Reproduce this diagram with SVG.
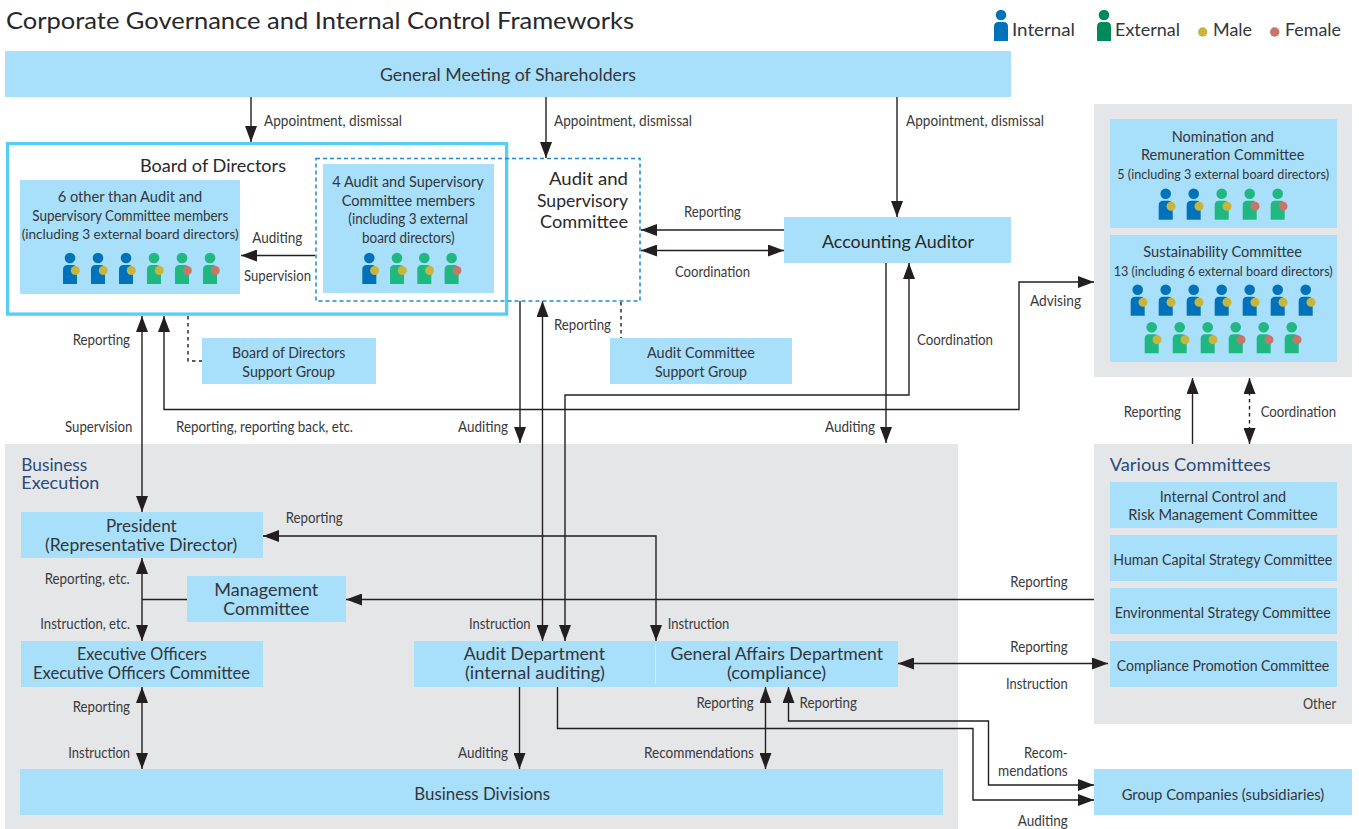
<svg xmlns="http://www.w3.org/2000/svg" xmlns:xlink="http://www.w3.org/1999/xlink" width="1359" height="829" viewBox="0 0 1359 829">
<style>
text{font-family:Lato,"Open Sans","Noto Sans","Liberation Sans",sans-serif;fill:#33363a;font-size:16.5px}
.l{font-size:15px;fill:#3a3a3c}
.s{font-size:15.5px}
.x{font-size:14.2px}
.h{font-size:17.5px;fill:#28282a}
.n{font-size:16.5px;fill:#2a4a7c}
.ti{font-size:24px;fill:#28282a}
.b{fill:#a8dffb}
.g{fill:#e5e6e8}
.c{fill:none;stroke:#231f20;stroke-width:1.4}
.e{marker-end:url(#a)}
.d{marker-end:url(#a);marker-start:url(#a)}
.st{marker-start:url(#a)}
.ds{stroke-dasharray:3.5 3.5}
</style>
<defs>
<marker id="a" markerUnits="userSpaceOnUse" markerWidth="16" markerHeight="12" viewBox="0 0 16 12" refX="16" refY="6" orient="auto-start-reverse"><path d="M0 0L16 6L0 12Z" fill="#231f20"/></marker>
<g id="person"><circle cx="0" cy="0" r="5.3"/><path d="M-7 26V11.5Q-7 7 -2.5 7H2.5Q7 7 7 11.5V26Z"/></g>
<g id="im"><use href="#person" fill="#0072bc"/><circle cx="5.3" cy="12.5" r="4.5" fill="#c9b53c"/></g>
<g id="em"><use href="#person" fill="#1fb880"/><circle cx="5.3" cy="12.5" r="4.5" fill="#c9b53c"/></g>
<g id="ef"><use href="#person" fill="#1fb880"/><circle cx="5.3" cy="12.5" r="4.5" fill="#c8766a"/></g>
</defs>
<rect width="1359" height="829" fill="#fff"/>
<text class="ti" x="6" y="29" textLength="628" lengthAdjust="spacingAndGlyphs">Corporate Governance and Internal Control Frameworks</text>

<g id="legend">
<use href="#person" fill="#0072bc" x="1001" y="15"/>
<text x="1012" y="36" textLength="63" lengthAdjust="spacingAndGlyphs">Internal</text>
<use href="#person" fill="#00895a" x="1104" y="15"/>
<text x="1115" y="36" textLength="65" lengthAdjust="spacingAndGlyphs">External</text>
<circle cx="1202.7" cy="32" r="4.7" fill="#c9b53c"/>
<text x="1213" y="36" textLength="39" lengthAdjust="spacingAndGlyphs">Male</text>
<circle cx="1274.7" cy="32" r="4.7" fill="#c8766a"/>
<text x="1285" y="36" textLength="56" lengthAdjust="spacingAndGlyphs">Female</text>
</g>

<g id="panels">
<rect class="g" x="1094" y="104" width="258" height="273"/>
<rect class="g" x="5" y="444" width="953" height="385"/>
<rect class="g" x="1094" y="444" width="258" height="280"/>
</g>

<g id="connectors">
<path class="c e" d="M251 97V142"/>
<path class="c e" d="M546 97V158"/>
<path class="c e" d="M897 97V217"/>
<path class="c e" d="M315 255.5H241"/>
<path class="c e" d="M784 230H641"/>
<path class="c d" d="M641 250.5H784"/>
<path class="c ds" d="M621 302V338"/>
<path class="c ds" d="M188 316V361H202"/>
<path class="c d" d="M142 316V512"/>
<path class="c d" d="M164 316V409.5H1019V282H1094"/>
<path class="c e" d="M520 301V443"/>
<path class="c d" d="M542.5 301V641"/>
<path class="c d" d="M565 641V395H909V263"/>
<path class="c e" d="M886 263V443"/>
<path class="c d" d="M263 536H656V641"/>
<path class="c e" d="M1094 599.5H346"/>
<path class="c" d="M187 599.5H142"/>
<path class="c d" d="M142 558V641"/>
<path class="c d" d="M142 687V769"/>
<path class="c d" d="M898 663.5H1108"/>
<path class="c e" d="M519.5 687V769"/>
<path class="c e" d="M557.5 687V728.5H973V800H1094"/>
<path class="c d" d="M765.5 687V769"/>
<path class="c st e" d="M788.5 687V721H988.5V785H1094"/>
<path class="c e" d="M1192.5 444V378"/>
<path class="c d ds" d="M1249.5 378V444"/>
</g>

<g id="connector-labels">
<text class="l" x="264" y="126" textLength="138" lengthAdjust="spacingAndGlyphs">Appointment, dismissal</text>
<text class="l" x="554" y="126" textLength="138" lengthAdjust="spacingAndGlyphs">Appointment, dismissal</text>
<text class="l" x="906" y="126" textLength="138" lengthAdjust="spacingAndGlyphs">Appointment, dismissal</text>
<text class="l" x="252.3" y="243" textLength="50" lengthAdjust="spacingAndGlyphs">Auditing</text>
<text class="l" x="244" y="281" textLength="67" lengthAdjust="spacingAndGlyphs">Supervision</text>
<text class="l" x="684" y="217" textLength="57" lengthAdjust="spacingAndGlyphs">Reporting</text>
<text class="l" x="675" y="277" textLength="75" lengthAdjust="spacingAndGlyphs">Coordination</text>
<text class="l" x="554" y="330" textLength="57" lengthAdjust="spacingAndGlyphs">Reporting</text>
<text class="l" x="917" y="345" textLength="76" lengthAdjust="spacingAndGlyphs">Coordination</text>
<text class="l" x="825" y="432" textLength="50" lengthAdjust="spacingAndGlyphs">Auditing</text>
<text class="l" x="1030" y="306" textLength="51" lengthAdjust="spacingAndGlyphs">Advising</text>
<text class="l" x="72.7" y="345" textLength="57.3" lengthAdjust="spacingAndGlyphs">Reporting</text>
<text class="l" x="65" y="432" textLength="67.3" lengthAdjust="spacingAndGlyphs">Supervision</text>
<text class="l" x="176" y="432" textLength="177" lengthAdjust="spacingAndGlyphs">Reporting, reporting back, etc.</text>
<text class="l" x="458" y="432" textLength="50" lengthAdjust="spacingAndGlyphs">Auditing</text>
<text class="l" x="285.7" y="523" textLength="57" lengthAdjust="spacingAndGlyphs">Reporting</text>
<text class="l" x="44.7" y="584" textLength="85" lengthAdjust="spacingAndGlyphs">Reporting, etc.</text>
<text class="l" x="40.3" y="629" textLength="89.7" lengthAdjust="spacingAndGlyphs">Instruction, etc.</text>
<text class="l" x="72.7" y="712" textLength="57.3" lengthAdjust="spacingAndGlyphs">Reporting</text>
<text class="l" x="68.3" y="758" textLength="61.7" lengthAdjust="spacingAndGlyphs">Instruction</text>
<text class="l" x="469" y="629" textLength="61.5" lengthAdjust="spacingAndGlyphs">Instruction</text>
<text class="l" x="667.7" y="629" textLength="61.5" lengthAdjust="spacingAndGlyphs">Instruction</text>
<text class="l" x="696.4" y="708" textLength="57.3" lengthAdjust="spacingAndGlyphs">Reporting</text>
<text class="l" x="799.6" y="708" textLength="57.3" lengthAdjust="spacingAndGlyphs">Reporting</text>
<text class="l" x="458" y="758" textLength="50" lengthAdjust="spacingAndGlyphs">Auditing</text>
<text class="l" x="644" y="758" textLength="110" lengthAdjust="spacingAndGlyphs">Recommendations</text>
<text class="l" x="1010.3" y="587" textLength="57.4" lengthAdjust="spacingAndGlyphs">Reporting</text>
<text class="l" x="1010.3" y="652" textLength="57.4" lengthAdjust="spacingAndGlyphs">Reporting</text>
<text class="l" x="1006" y="689" textLength="61.7" lengthAdjust="spacingAndGlyphs">Instruction</text>
<text class="l" x="1024" y="758" textLength="43.7" lengthAdjust="spacingAndGlyphs">Recom-</text>
<text class="l" x="998" y="776" textLength="69.7" lengthAdjust="spacingAndGlyphs">mendations</text>
<text class="l" x="1017.7" y="825.5" textLength="50" lengthAdjust="spacingAndGlyphs">Auditing</text>
<text class="l" x="1123.7" y="417" textLength="57.3" lengthAdjust="spacingAndGlyphs">Reporting</text>
<text class="l" x="1260.7" y="417" textLength="75.3" lengthAdjust="spacingAndGlyphs">Coordination</text>
</g>

<g id="shareholders">
<rect class="b" x="5" y="51" width="1006" height="46"/>
<text x="380" y="81" textLength="256" lengthAdjust="spacingAndGlyphs">General Meeting of Shareholders</text>
</g>

<g id="board-of-directors">
<rect x="7.6" y="143.6" width="499" height="170.5" fill="none" stroke="#56cdf6" stroke-width="3.3"/>
<text class="h" x="140" y="172" textLength="146" lengthAdjust="spacingAndGlyphs">Board of Directors</text>
</g>

<g id="other-members">
<rect class="b" x="20" y="180" width="220" height="114"/>
<text class="s" x="57.7" y="202" textLength="144.6" lengthAdjust="spacingAndGlyphs">6 other than Audit and</text>
<text class="s" x="32.3" y="221" textLength="196" lengthAdjust="spacingAndGlyphs">Supervisory Committee members</text>
<text class="x" x="21.7" y="239" textLength="217" lengthAdjust="spacingAndGlyphs">(including 3 external board directors)</text>
<use href="#im" x="70" y="258"/><use href="#im" x="98" y="258"/><use href="#im" x="126" y="258"/>
<use href="#em" x="154" y="258"/><use href="#ef" x="182" y="258"/><use href="#ef" x="210" y="258"/>
</g>

<g id="audit-supervisory-committee">
<rect x="316" y="158.5" width="324" height="142.5" fill="none" stroke="#1a8ad0" stroke-width="1.5" stroke-dasharray="4 3"/>
<text class="h" x="549" y="185" textLength="79" lengthAdjust="spacingAndGlyphs">Audit and</text>
<text class="h" x="537" y="207" textLength="91" lengthAdjust="spacingAndGlyphs">Supervisory</text>
<text class="h" x="540" y="228" textLength="88" lengthAdjust="spacingAndGlyphs">Committee</text>
</g>

<g id="audit-members">
<rect class="b" x="323" y="164" width="171" height="129"/>
<text class="s" x="332.3" y="187" textLength="151.4" lengthAdjust="spacingAndGlyphs">4 Audit and Supervisory</text>
<text class="s" x="341.7" y="206" textLength="133.3" lengthAdjust="spacingAndGlyphs">Committee members</text>
<text class="s" x="348.3" y="224" textLength="119.7" lengthAdjust="spacingAndGlyphs">(including 3 external</text>
<text class="s" x="362" y="243" textLength="92.7" lengthAdjust="spacingAndGlyphs">board directors)</text>
<use href="#im" x="369.3" y="258"/><use href="#em" x="397" y="258"/><use href="#em" x="424.3" y="258"/><use href="#ef" x="451.6" y="258"/>
</g>

<g id="accounting-auditor">
<rect class="b" x="784" y="217" width="227" height="46"/>
<text class="h" x="822" y="248" textLength="152" lengthAdjust="spacingAndGlyphs">Accounting Auditor</text>
</g>

<g id="board-support">
<rect class="b" x="202" y="338" width="174" height="46"/>
<text class="s" x="232" y="358" textLength="113.3" lengthAdjust="spacingAndGlyphs">Board of Directors</text>
<text class="s" x="242.3" y="377" textLength="92.7" lengthAdjust="spacingAndGlyphs">Support Group</text>
</g>

<g id="audit-support">
<rect class="b" x="610" y="338" width="182" height="46"/>
<text class="s" x="647" y="358" textLength="108" lengthAdjust="spacingAndGlyphs">Audit Committee</text>
<text class="s" x="655" y="377" textLength="92" lengthAdjust="spacingAndGlyphs">Support Group</text>
</g>

<g id="nomination-committee">
<rect class="b" x="1110" y="119" width="227" height="109"/>
<text class="s" x="1171.7" y="142" textLength="102.3" lengthAdjust="spacingAndGlyphs">Nomination and</text>
<text class="s" x="1141" y="160" textLength="163.3" lengthAdjust="spacingAndGlyphs">Remuneration Committee</text>
<text class="x" x="1117.3" y="179" textLength="211.7" lengthAdjust="spacingAndGlyphs">5 (including 3 external board directors)</text>
<use href="#im" x="1165.7" y="193.7"/><use href="#im" x="1193.7" y="193.7"/><use href="#em" x="1221.7" y="193.7"/><use href="#ef" x="1249.7" y="193.7"/><use href="#ef" x="1277.7" y="193.7"/>
</g>

<g id="sustainability-committee">
<rect class="b" x="1110" y="235" width="227" height="127"/>
<text class="s" x="1143.3" y="257" textLength="158.7" lengthAdjust="spacingAndGlyphs">Sustainability Committee</text>
<text class="x" x="1113.7" y="276" textLength="219" lengthAdjust="spacingAndGlyphs">13 (including 6 external board directors)</text>
<use href="#im" x="1137.7" y="289.7"/><use href="#im" x="1165.7" y="289.7"/><use href="#im" x="1193.7" y="289.7"/><use href="#im" x="1221.7" y="289.7"/><use href="#im" x="1249.7" y="289.7"/><use href="#im" x="1277.7" y="289.7"/><use href="#im" x="1305.7" y="289.7"/>
<use href="#em" x="1151.7" y="327.3"/><use href="#em" x="1179.7" y="327.3"/><use href="#em" x="1207.7" y="327.3"/><use href="#ef" x="1235.7" y="327.3"/><use href="#ef" x="1263.7" y="327.3"/><use href="#ef" x="1291.7" y="327.3"/>
</g>

<g id="business-execution">
<text class="n" x="21.3" y="470.5" textLength="66" lengthAdjust="spacingAndGlyphs">Business</text>
<text class="n" x="21.3" y="489" textLength="78" lengthAdjust="spacingAndGlyphs">Execution</text>
</g>

<g id="president">
<rect class="b" x="21" y="512" width="242" height="46"/>
<text x="106" y="532" textLength="70.7" lengthAdjust="spacingAndGlyphs">President</text>
<text x="45" y="551" textLength="192.3" lengthAdjust="spacingAndGlyphs">(Representative Director)</text>
</g>

<g id="management-committee">
<rect class="b" x="187" y="576" width="159" height="46"/>
<text x="214.3" y="596" textLength="104" lengthAdjust="spacingAndGlyphs">Management</text>
<text x="223.3" y="615" textLength="86" lengthAdjust="spacingAndGlyphs">Committee</text>
</g>

<g id="executive-officers">
<rect class="b" x="21" y="641" width="242" height="46"/>
<text x="77" y="660" textLength="129.7" lengthAdjust="spacingAndGlyphs">Executive Officers</text>
<text x="33" y="679" textLength="217" lengthAdjust="spacingAndGlyphs">Executive Officers Committee</text>
</g>

<g id="audit-general-affairs">
<rect class="b" x="414" y="641" width="484" height="46"/>
<path d="M655.5 644V684" stroke="#d5ecd8" stroke-width="1" fill="none"/>
<text x="463.8" y="660" textLength="141.2" lengthAdjust="spacingAndGlyphs">Audit Department</text>
<text x="465" y="679" textLength="140" lengthAdjust="spacingAndGlyphs">(internal auditing)</text>
<text x="670.5" y="660" textLength="212.5" lengthAdjust="spacingAndGlyphs">General Affairs Department</text>
<text x="727" y="679" textLength="99" lengthAdjust="spacingAndGlyphs">(compliance)</text>
</g>

<g id="business-divisions">
<rect class="b" x="20" y="769" width="923" height="46"/>
<text x="414.3" y="800" textLength="135.7" lengthAdjust="spacingAndGlyphs">Business Divisions</text>
</g>

<g id="various-committees">
<text class="n" x="1109.7" y="471" textLength="161" lengthAdjust="spacingAndGlyphs">Various Committees</text>
<text class="l" x="1303" y="709" textLength="33" lengthAdjust="spacingAndGlyphs">Other</text>
</g>
<g id="internal-control-committee">
<rect class="b" x="1110" y="482" width="227" height="46"/>
<text class="s" x="1159.7" y="502" textLength="126.3" lengthAdjust="spacingAndGlyphs">Internal Control and</text>
<text class="s" x="1128.3" y="520" textLength="189.4" lengthAdjust="spacingAndGlyphs">Risk Management Committee</text>
</g>
<g id="human-capital-committee">
<rect class="b" x="1110" y="535" width="227" height="46"/>
<text class="s" x="1113.3" y="565" textLength="219" lengthAdjust="spacingAndGlyphs">Human Capital Strategy Committee</text>
</g>
<g id="environmental-committee">
<rect class="b" x="1110" y="588" width="227" height="46"/>
<text class="s" x="1114.7" y="618" textLength="216" lengthAdjust="spacingAndGlyphs">Environmental Strategy Committee</text>
</g>
<g id="compliance-committee">
<rect class="b" x="1110" y="641" width="227" height="46"/>
<text class="s" x="1116.7" y="671" textLength="212.6" lengthAdjust="spacingAndGlyphs">Compliance Promotion Committee</text>
</g>

<g id="group-companies">
<rect class="b" x="1094" y="769" width="258" height="46"/>
<text class="s" x="1121.7" y="800" textLength="202.6" lengthAdjust="spacingAndGlyphs">Group Companies (subsidiaries)</text>
</g>
</svg>
